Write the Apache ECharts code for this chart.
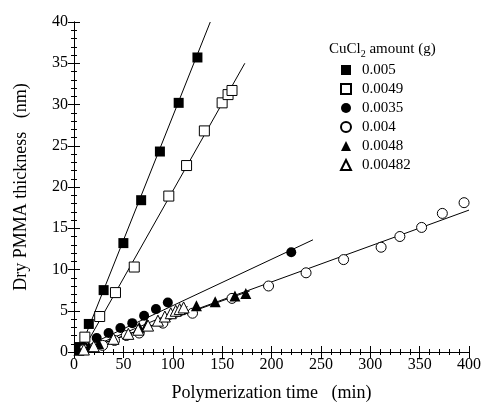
<!DOCTYPE html>
<html>
<head>
<meta charset="utf-8">
<script src="https://cdn.jsdelivr.net/npm/echarts@6/dist/echarts.min.js"></script>
<style>
  html, body { margin: 0; padding: 0; background: #fff; }
  #chart { width: 484px; height: 408px; }
</style>
</head>
<body>
<div id="chart"></div>
<script>
// CuCl2 amounts (legend names)
const names = ['0.005', '0.0049', '0.0035', '0.004', '0.0048', '0.00482'];

// polymerization time (min) / dry PMMA thickness (nm)
const sqFillX = [5, 15, 30, 50, 68, 87, 106, 125];
const sqFillY = [0.6, 3.4, 7.5, 13.2, 18.4, 24.3, 30.2, 35.7];
const sqOpenX = [11, 26, 42, 61, 96, 114, 132, 150, 156, 160];
const sqOpenY = [1.8, 4.3, 7.2, 10.3, 18.9, 22.6, 26.8, 30.2, 31.2, 31.7];
const ciFillX = [10, 23, 35, 47, 59, 71, 83, 95, 220];
const ciFillY = [0.6, 1.7, 2.3, 2.9, 3.5, 4.4, 5.2, 6.0, 12.1];
const ciOpenX = [10, 29, 41, 53, 66, 90, 120, 160, 197, 235, 273, 311, 330, 352, 373, 395];
const ciOpenY = [0.3, 0.8, 1.4, 2.0, 2.3, 3.5, 4.7, 6.5, 8.0, 9.6, 11.2, 12.7, 14.0, 15.1, 16.8, 18.1];
const trFillX = [5, 15, 25, 66, 74, 124, 143, 163, 174];
const trFillY = [0.2, 0.6, 1.0, 3.0, 3.4, 5.6, 6.1, 6.8, 7.1];
const trOpenX = [10, 20, 40, 55, 65, 75, 85, 92, 98, 103, 107, 111];
const trOpenY = [0.3, 0.7, 1.6, 2.2, 2.7, 3.2, 3.8, 4.3, 4.7, 5.0, 5.2, 5.4];

// fitted lines: [start, end] in data units
const fitSqFill = [[5, 0], [138, 40]];
const fitSqOpen = [[8, 0], [173, 35]];
const fitCiFill = [[0, 0], [242, 13.6]];
const fitCiOpen = [[5, 0], [400, 17.2]];
const fitTrFill = [[5, 0], [178, 7.4]];
const fitTrOpen = [[5, 0], [115, 5.5]];

const font = 'Liberation Serif, Times New Roman, serif';
const pairs = (xs, ys) => xs.map((x, i) => [x, ys[i]]);

const open = { color: '#fff', borderColor: '#000', borderWidth: 1, opacity: 1 };
const filled = { color: '#000', opacity: 1 };

function marks(name, xs, ys, symbol, size, style) {
  return {
    name, type: 'scatter', data: pairs(xs, ys), symbol, symbolSize: size,
    itemStyle: style, z: 5,
  };
}
function fit(pts) {
  return {
    type: 'line', data: pts, symbol: 'none', silent: true, z: 3,
    lineStyle: { color: '#000', width: 1 },
  };
}

const tickCommon = {
  axisLine: { lineStyle: { color: '#000', width: 1 } },
  axisTick: { inside: true, length: 6, lineStyle: { color: '#000' } },
  minorTick: { show: true, splitNumber: 5, length: 3, lineStyle: { color: '#000' } },
  splitLine: { show: false },
};

const chart = echarts.init(document.getElementById('chart'));
chart.setOption({
  animation: false,
  backgroundColor: '#fff',
  textStyle: { fontFamily: font, color: '#000' },
  grid: { left: 74, right: 15, top: 22, bottom: 56 },
  title: {
    text: '{a|CuCl}{s|2}{a| amount (g)}',
    left: 324, top: 34,
    textStyle: {
      fontWeight: 'normal',
      rich: {
        a: { fontFamily: font, fontSize: 15, fontWeight: 'normal', color: '#000', lineHeight: 18 },
        s: { fontFamily: font, fontSize: 10, fontWeight: 'normal', color: '#000', padding: [10, 0, 0, 0] },
      },
    },
  },
  legend: {
    data: names, orient: 'vertical', left: 335, top: 57,
    itemWidth: 10, itemHeight: 10, itemGap: 3,
    textStyle: { fontFamily: font, fontSize: 15, color: '#000', lineHeight: 16, padding: [0, 0, 0, 6] },
  },
  xAxis: [
    Object.assign({
      type: 'value', min: 0, max: 400, interval: 50, position: 'bottom',
      name: 'Polymerization time   (min)', nameLocation: 'middle', nameGap: 32,
      nameTextStyle: { fontFamily: font, fontSize: 18, color: '#000' },
      axisLabel: { fontFamily: font, fontSize: 16, color: '#000', margin: 5 },
    }, tickCommon),
    Object.assign({
      type: 'value', min: 0, max: 400, interval: 50, position: 'top',
      axisLabel: { show: false },
    }, tickCommon),
  ],
  yAxis: [
    Object.assign({
      type: 'value', min: 0, max: 40, interval: 5, position: 'left',
      name: 'Dry PMMA thickness   (nm)', nameLocation: 'middle', nameGap: 44,
      nameTextStyle: { fontFamily: font, fontSize: 18, color: '#000' },
      axisLabel: { fontFamily: font, fontSize: 16, color: '#000', margin: 6 },
    }, tickCommon),
    Object.assign({
      type: 'value', min: 0, max: 40, interval: 5, position: 'right',
      axisLabel: { show: false },
    }, tickCommon),
  ],
  series: [
    fit(fitSqFill), fit(fitSqOpen), fit(fitCiFill),
    fit(fitCiOpen), fit(fitTrFill), fit(fitTrOpen),
    marks(names[0], sqFillX, sqFillY, 'rect', 10, filled),
    marks(names[1], sqOpenX, sqOpenY, 'rect', 10, open),
    marks(names[2], ciFillX, ciFillY, 'circle', 10, filled),
    marks(names[3], ciOpenX, ciOpenY, 'circle', 10, open),
    marks(names[4], trFillX, trFillY, 'triangle', 11, filled),
    marks(names[5], trOpenX, trOpenY, 'triangle', 11, open),
  ],
});
</script>
</body>
</html>
